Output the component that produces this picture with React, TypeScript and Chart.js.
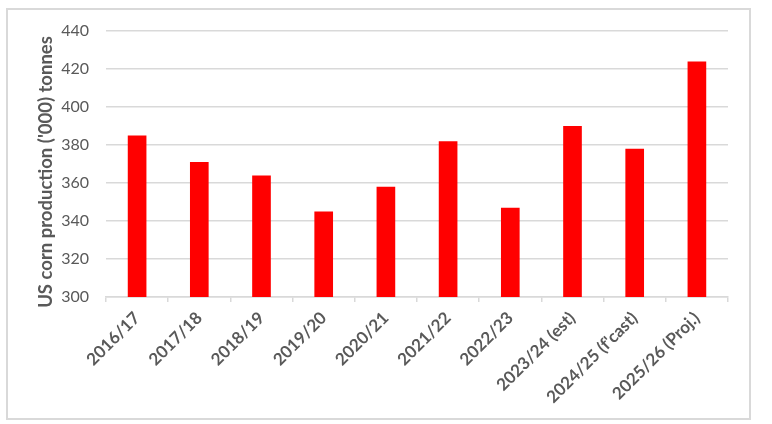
import React, { useEffect, useRef } from "react";
import { Chart, registerables } from "chart.js";

Chart.register(...registerables);

const categories: string[] = [
  "2016/17",
  "2017/18",
  "2018/19",
  "2019/20",
  "2020/21",
  "2021/22",
  "2022/23",
  "2023/24 (est)",
  "2024/25 (f'cast)",
  "2025/26 (Proj.)",
];

const production: number[] = [385, 371, 364, 345, 358, 382, 347, 390, 378, 424];

const yMin = 300;
const yMax = 440;
const yStep = 20;
const yTitle = "US corn production ('000) tonnes";

const FONT = "Lato, 'Open Sans', 'Liberation Sans', sans-serif";
const TEXT = "#595959";
const GRID = "#d9d9d9";

const yTitlePlugin = {
  id: "yTitlePlugin",
  afterDraw(chart: any) {
    const ctx = chart.ctx;
    const area = chart.chartArea;
    ctx.save();
    ctx.translate(38, (area.top + area.bottom) / 2 + 8);
    ctx.rotate(-Math.PI / 2);
    ctx.font = `bold 18.5px ${FONT}`;
    ctx.fillStyle = TEXT;
    ctx.textAlign = "center";
    ctx.textBaseline = "middle";
    ctx.fillText(yTitle, 0, 0);
    ctx.restore();
  },
};

export default function App() {
  const ref = useRef<HTMLCanvasElement | null>(null);

  useEffect(() => {
    if (!ref.current) return;
    const chart = new Chart(ref.current, {
      type: "bar",
      data: {
        labels: categories,
        datasets: [
          {
            data: production,
            backgroundColor: "#ff0000",
            borderWidth: 0,
            barPercentage: 0.3,
            categoryPercentage: 1.0,
          },
        ],
      },
      plugins: [yTitlePlugin],
      options: {
        animation: false,
        responsive: false,
        maintainAspectRatio: false,
        devicePixelRatio: 1,
        layout: { padding: { left: 0, right: 21, top: 21, bottom: 0 } },
        plugins: {
          legend: { display: false },
          tooltip: { enabled: false },
        },
        scales: {
          x: {
            grid: {
              display: true,
              drawOnChartArea: false,
              drawTicks: true,
              tickLength: 5,
              color: GRID,
              lineWidth: 1.5,
            },
            border: { display: true, color: GRID, width: 1.5 },
            ticks: {
              color: TEXT,
              font: { family: FONT, size: 17, weight: "bold" },
              minRotation: 45,
              maxRotation: 45,
              autoSkip: false,
              padding: 6,
            },
            afterFit: (scale: any) => {
              scale.height = 121;
            },
          },
          y: {
            min: yMin,
            max: yMax,
            grid: {
              color: GRID,
              lineWidth: 1.5,
              drawTicks: true,
              tickLength: 8,
              tickColor: "rgba(0,0,0,0)",
            },
            border: { display: false },
            ticks: {
              stepSize: yStep,
              color: TEXT,
              font: { family: FONT, size: 16 },
              padding: 9,
            },
            title: { display: false },
            afterFit: (scale: any) => {
              scale.width = 98;
            },
          },
        },
      },
    });
    return () => chart.destroy();
  }, []);

  return (
    <div
      style={{
        position: "absolute",
        left: 6,
        top: 8,
        width: 741,
        height: 408,
        border: "2px solid #d9d9d9",
        background: "#fff",
      }}
    >
      <canvas ref={ref} width={741} height={408} style={{ display: "block" }} />
    </div>
  );
}
